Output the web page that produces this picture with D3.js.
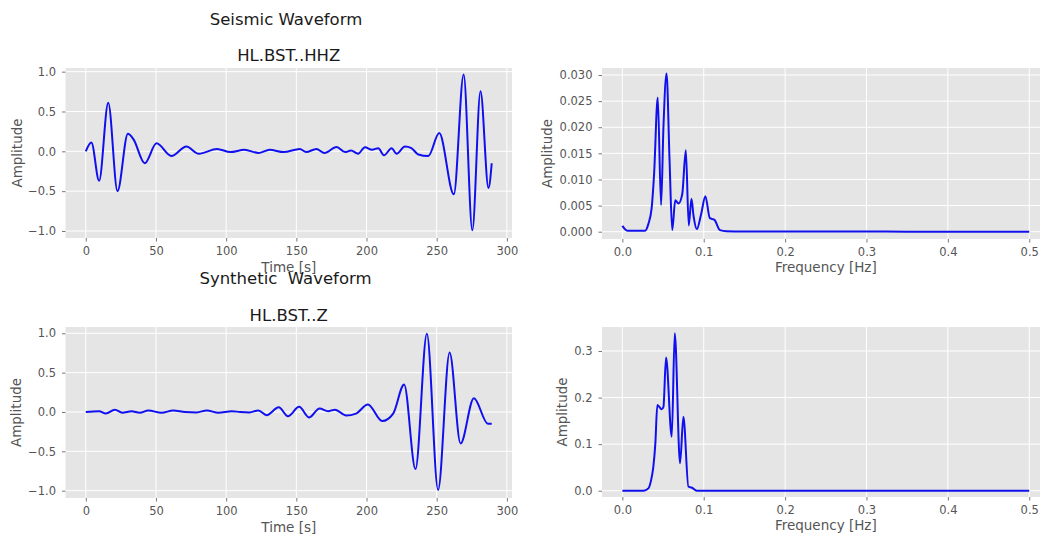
<!DOCTYPE html>
<html>
<head>
<meta charset="utf-8">
<script src="https://cdn.jsdelivr.net/npm/d3@7"></script>
<style>
  html, body { margin: 0; padding: 0; background: #ffffff; }
  svg { display: block; font-family: "DejaVu Sans", sans-serif; }
</style>
</head>
<body>
<svg id="chart" width="1040" height="536"></svg>
<script>
// ---------- data ----------
// Seismic waveform (HL.BST..HHZ), extrema
const seisTime = [0, 4, 9.5, 16, 22.6, 30, 34, 42, 50.4, 61, 71.7, 80.5, 93.5, 103, 113, 123, 131, 141,
  152.5, 157, 164.3, 170, 178.7, 184.7, 189, 194, 198.9, 204, 208.4, 212.4, 217.9, 221.4, 227.4, 232,
  236.9, 244, 251.8, 262.2, 269.2, 275.4, 281.2, 286.9, 289.2];
const seisAmp = [0, 0.11, -0.37, 0.61, -0.50, 0.22, 0.15, -0.15, 0.10, -0.06, 0.06, -0.03, 0.03, -0.01, 0.02, -0.02, 0.02, -0.01,
  0.03, -0.01, 0.03, -0.02, 0.055, -0.01, 0.01, -0.03, 0.05, 0.02, 0.04, -0.05, 0.04, -0.03, 0.06, 0.04,
  -0.04, -0.06, 0.23, -0.54, 0.965, -0.99, 0.755, -0.46, -0.15];

// Synthetic waveform (HL.BST..Z)
const synTime = [0, 9.5, 14.3, 20.7, 26, 32.6, 38.5, 44.5, 54, 62.3, 70.7, 79, 86.2, 94.5, 104, 110, 116.6, 123,
  128.8, 137.5, 144, 152, 159.2, 166.5, 172.7, 177.5, 185.5, 192.5, 201, 211.2, 219, 226.8, 234.9, 243,
  251, 259.2, 267, 276.5, 286.5, 289.2];
const synAmp = [0, 0.01, -0.02, 0.03, -0.01, 0.01, -0.01, 0.02, -0.01, 0.02, 0.0, -0.005, 0.02, -0.01, 0.01, 0.0, -0.005, 0.02,
  -0.04, 0.06, -0.055, 0.065, -0.07, 0.045, 0.01, 0.03, -0.045, -0.02, 0.095, -0.115, -0.02, 0.35, -0.725, 0.995,
  -0.99, 0.755, -0.40, 0.175, -0.15, -0.15];

// Amplitude spectrum of the seismic waveform
const seisFreq = [0, 0.006, 0.028, 0.032, 0.036, 0.039, 0.0435, 0.0476, 0.0505, 0.0543, 0.058, 0.0613,
  0.065, 0.069, 0.0736, 0.078, 0.0816, 0.0849, 0.0875, 0.0915, 0.097, 0.102, 0.1075, 0.113, 0.12, 0.128,
  0.15, 0.2, 0.25, 0.3, 0.35, 0.4, 0.45, 0.5];
const seisSpec = [0.0011, 0.0002, 0.0002, 0.0015, 0.0045, 0.011, 0.0257, 0.0051, 0.020, 0.0303, 0.0137, 0.0003,
  0.0060, 0.0054, 0.0072, 0.0156, 0.0012, 0.0063, 0.0030, 0.0005, 0.0035, 0.0068, 0.0026, 0.0023, 0.0003, 0.0001,
  0.00005, 0.00003, 0.00002, 0.00002, 0.00001, 0.00001, 0.00001, 0.00001];

// Amplitude spectrum of the synthetic waveform
const synFreq = [0, 0.026, 0.032, 0.035, 0.038, 0.0405, 0.043, 0.0484, 0.0505, 0.0537, 0.0607, 0.0644,
  0.0709, 0.075, 0.0812, 0.085, 0.0915, 0.1, 0.2, 0.3, 0.4, 0.5];
const synSpec = [0, 0, 0.005, 0.02, 0.05, 0.10, 0.184, 0.175, 0.18, 0.286, 0.116, 0.338,
  0.059, 0.159, 0.0086, 0.007, 0.0, 0.0, 0.0, 0.0, 0.0, 0.0];

// tick labels
const timeTicks = [0, 50, 100, 150, 200, 250, 300];
const waveAmpTicks = [-1.0, -0.5, 0.0, 0.5, 1.0];
const freqTicks = [0.0, 0.1, 0.2, 0.3, 0.4, 0.5];
const seisSpecTicks = [0.000, 0.005, 0.010, 0.015, 0.020, 0.025, 0.030];
const synSpecTicks = [0.0, 0.1, 0.2, 0.3];

// ---------- drawing ----------
const svg = d3.select("#chart");
const BG = "#E5E5E5", TICK = "#555555", LINE = "#1010ee";

function panel(opts) {
  const { id, left, right, top, bottom, xDomain, yDomain, xTicks, yTicks, xFmt, yFmt,
          xs, ys, xLabel, yLabelX, title, titleY, xLabelY } = opts;
  const x = d3.scaleLinear().domain(xDomain).range([left, right]);
  const y = d3.scaleLinear().domain(yDomain).range([bottom, top]);
  const g = svg.append("g");
  g.append("rect").attr("x", left).attr("y", top).attr("width", right - left).attr("height", bottom - top)
    .attr("fill", BG);
  // grid
  g.append("g").selectAll("line").data(xTicks).join("line")
    .attr("x1", d => x(d)).attr("x2", d => x(d)).attr("y1", top).attr("y2", bottom)
    .attr("stroke", "#ffffff").attr("stroke-width", 1);
  g.append("g").selectAll("line").data(yTicks).join("line")
    .attr("y1", d => y(d)).attr("y2", d => y(d)).attr("x1", left).attr("x2", right)
    .attr("stroke", "#ffffff").attr("stroke-width", 1);
  // axes
  const xAxis = d3.axisBottom(x).tickValues(xTicks).tickFormat(xFmt).tickSize(3.5).tickPadding(5.5);
  const yAxis = d3.axisLeft(y).tickValues(yTicks).tickFormat(yFmt).tickSize(3.5).tickPadding(6);
  const gx = g.append("g").attr("transform", `translate(0,${bottom})`).call(xAxis);
  const gy = g.append("g").attr("transform", `translate(${left},0)`).call(yAxis);
  [gx, gy].forEach(a => {
    a.select(".domain").remove();
    a.selectAll(".tick line").attr("stroke", TICK).attr("stroke-width", 0.8);
    a.selectAll(".tick text").attr("fill", TICK).style("font-size", "11.5px")
      .style("font-family", "DejaVu Sans, sans-serif");
  });
  // clip + line
  svg.append("clipPath").attr("id", "clip" + id).append("rect")
    .attr("x", left).attr("y", top).attr("width", right - left).attr("height", bottom - top);
  const line = d3.line().x((d, i) => x(xs[i])).y((d, i) => y(ys[i])).curve(d3.curveMonotoneX);
  g.append("path").datum(xs).attr("d", line).attr("fill", "none").attr("stroke", LINE)
    .attr("stroke-width", 2).attr("stroke-linejoin", "round").attr("clip-path", `url(#clip${id})`);
  // labels
  g.append("text").attr("x", (left + right) / 2).attr("y", xLabelY).attr("text-anchor", "middle")
    .attr("fill", TICK).style("font-size", "13.5px").text(xLabel);
  g.append("text").attr("transform", `translate(${yLabelX},${(top + bottom) / 2}) rotate(-90)`)
    .attr("text-anchor", "middle").attr("dominant-baseline", "central")
    .attr("fill", TICK).style("font-size", "13.5px").text("Amplitude");
  if (title) {
    g.append("text").attr("x", (left + right) / 2).attr("y", titleY).attr("text-anchor", "middle")
      .attr("fill", "#1a1a1a").style("font-size", "16.5px").text(title);
  }
}

const fmt1 = d3.format(".1f"), fmt3 = d3.format(".3f"), fmt0 = d3.format("d");

panel({ id: "tl", left: 65.5, right: 512, top: 68, bottom: 238,
  xDomain: [-14.45, 303.65], yDomain: [-1.088, 1.046],
  xTicks: timeTicks, yTicks: waveAmpTicks, xFmt: fmt0, yFmt: fmt1,
  xs: seisTime, ys: seisAmp, xLabel: "Time [s]", xLabelY: 272, yLabelX: 16.5,
  title: "HL.BST..HHZ", titleY: 61 });

panel({ id: "tr", left: 602, right: 1049.6, top: 68, bottom: 239,
  xDomain: [-0.025, 0.525], yDomain: [-0.0014, 0.03134],
  xTicks: freqTicks, yTicks: seisSpecTicks, xFmt: fmt1, yFmt: fmt3,
  xs: seisFreq, ys: seisSpec, xLabel: "Frequency [Hz]", xLabelY: 272, yLabelX: 547 });

panel({ id: "bl", left: 65.5, right: 512, top: 327, bottom: 498,
  xDomain: [-14.45, 303.65], yDomain: [-1.093, 1.08],
  xTicks: timeTicks, yTicks: waveAmpTicks, xFmt: fmt0, yFmt: fmt1,
  xs: synTime, ys: synAmp, xLabel: "Time [s]", xLabelY: 532, yLabelX: 16,
  title: "HL.BST..Z", titleY: 321 });

panel({ id: "br", left: 602, right: 1049.6, top: 327, bottom: 497,
  xDomain: [-0.025, 0.525], yDomain: [-0.0135, 0.3515],
  xTicks: freqTicks, yTicks: synSpecTicks, xFmt: fmt1, yFmt: fmt1,
  xs: synFreq, ys: synSpec, xLabel: "Frequency [Hz]", xLabelY: 530, yLabelX: 562 });

// figure titles
svg.append("text").attr("x", 286).attr("y", 25).attr("text-anchor", "middle")
  .attr("fill", "#1a1a1a").style("font-size", "16.5px").text("Seismic Waveform");
svg.append("text").attr("x", 285.5).attr("y", 284).attr("text-anchor", "middle")
  .attr("fill", "#1a1a1a").style("font-size", "16.5px").style("white-space", "pre")
  .text("Synthetic  Waveform");
</script>
</body>
</html>
